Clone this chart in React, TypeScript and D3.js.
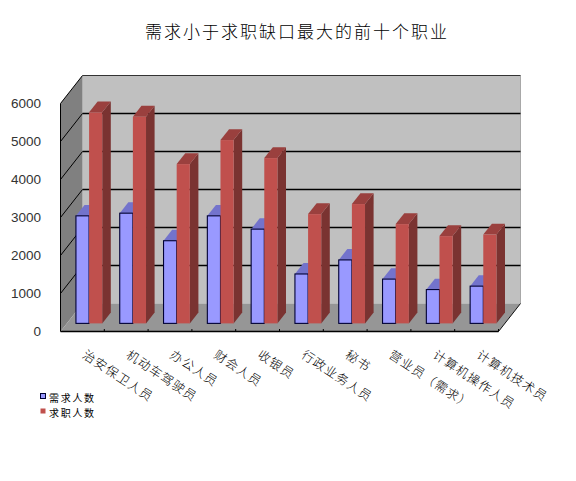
import React from "react";
import * as d3 from "d3";

const title = "需求小于求职缺口最大的前十个职业";
const categories = ["治安保卫人员", "机动车驾驶员", "办公人员", "财会人员", "收银员", "行政业务人员", "秘书", "营业员（需求）", "计算机操作人员", "计算机技术员"];
const demand = [2830, 2900, 2175, 2830, 2480, 1300, 1670, 1165, 890, 980];
const seekers = [5553, 5437, 4192, 4824, 4350, 2876, 3140, 2613, 2297, 2337];
const seriesNames = ["需求人数", "求职人数"];
const ticks = [0, 1000, 2000, 3000, 4000, 5000, 6000];

const CJK = "'Noto Sans CJK SC', sans-serif";
const x = d3.scaleBand<number>().domain(d3.range(categories.length)).range([60.5, 498.5]);
const y = d3.scaleLinear().domain([0, 6000]).range([331.5, 103.5]);
const DX = 22, DY = -28;
const off = (t: number) => [DX * t, DY * t];
const T0 = 0.29, T1 = 0.68;
const pts = (a: number[][]) => a.map((p) => p.join(",")).join(" ");

function Bar({ i, s, v }: { i: number; s: number; v: number }) {
  const bw = x.bandwidth();
  const gap = 0.2 * bw;
  const w = (bw - 2 * gap) / 2;
  const xa = x(i)! + gap + 0.3 + s * w + off(T0)[0];
  const xb = xa + w;
  const yb = y(0) + off(T0)[1], yt = y(v) + off(T0)[1];
  const [ddx, ddy] = [off(T1)[0] - off(T0)[0], off(T1)[1] - off(T0)[1]];
  const c = s === 0
    ? { f: "#9999ff", t: "#7373cc", d: "#6b6bb3", st: "#000033", sw: 1.1 }
    : { f: "#c0504d", t: "#9a403e", d: "#7a3331", st: "none", sw: 0 };
  return (
    <g>
      <polygon points={pts([[xb, yb], [xb + ddx, yb + ddy], [xb + ddx, yt + ddy], [xb, yt]])} fill={c.d} />
      <polygon points={pts([[xa, yt], [xa + ddx, yt + ddy], [xb + ddx, yt + ddy], [xb, yt]])} fill={c.t} />
      <rect x={xa} y={yt} width={xb - xa} height={yb - yt} fill={c.f} stroke={c.st} strokeWidth={c.sw} />
    </g>
  );
}

export default function App() {
  const [l, r] = x.range();
  const y0 = y(0), yTop = y(6000);
  return (
    <svg width={576} height={481} style={{ position: "absolute", left: 0, top: 0, background: "#fff" }}>
      <text x={297} y={38} textAnchor="middle" fontFamily={CJK} fontSize={17} letterSpacing={2} fontWeight={300} fill="#000">{title}</text>

      <polygon points={pts([[l + DX, yTop + DY], [r + DX, yTop + DY], [r + DX, y0 + DY], [l + DX, y0 + DY]])} fill="#c0c0c0" />
      <polygon points={pts([[l, yTop], [l + DX, yTop + DY], [l + DX, y0 + DY], [l, y0]])} fill="#808080" />
      <polygon points={pts([[l, y0], [l + DX, y0 + DY], [r + DX, y0 + DY], [r, y0]])} fill="#969696" />
      <line x1={r + DX} x2={r + DX} y1={yTop + DY} y2={y0 + DY} stroke="#a8a8a8" />
      <line x1={r + DX} x2={r} y1={y0 + DY} y2={y0} stroke="#111" />

      {ticks.slice(1).map((t) => (
        <g key={t} stroke="#000" fill="none">
          <line x1={l} y1={y(t)} x2={l + DX} y2={y(t) + DY} strokeWidth={1} />
          <line x1={l + DX} y1={y(t) + DY} x2={r + DX} y2={y(t) + DY} strokeWidth={t === 6000 ? 1 : 1.3} stroke={t === 6000 ? "#333" : "#000"} />
        </g>
      ))}
      <line x1={l} x2={l} y1={yTop} y2={y0} stroke="#000" />
      <line x1={l} x2={r} y1={y0} y2={y0} stroke="#000" strokeWidth={1.3} />
      {d3.range(1, categories.length + 1).map((i) => (
        <line key={i} x1={l + i * x.bandwidth()} x2={l + i * x.bandwidth()} y1={y0 - 2.5} y2={y0} stroke="#000" />
      ))}

      {categories.map((_, i) => (
        <g key={i}>
          <Bar i={i} s={0} v={demand[i]} />
          <Bar i={i} s={1} v={seekers[i]} />
        </g>
      ))}

      {ticks.map((t) => (
        <text key={t} x={41} y={y(t) + 4.8} textAnchor="end" fontFamily="'Liberation Sans', sans-serif" fontSize={13.5} fill="#333">{t}</text>
      ))}

      {categories.map((c, i) => (
        <text key={c} transform={`translate(${x(i)! + 21},${357}) rotate(33.5)`} fontFamily={CJK} fontSize={12.5} letterSpacing={1.1} fontWeight={300} fill="#000">{c}</text>
      ))}

      {seriesNames.map((n, k) => (
        <g key={n}>
          <rect x={40.5} y={393.5 + k * 15} width={5} height={5} fill={k === 0 ? "#9999ff" : "#c0504d"} stroke={k === 0 ? "#000033" : "none"} />
          <text x={49} y={402 + k * 14.5} fontFamily={CJK} fontSize={10} letterSpacing={1.7} fill="#000">{n}</text>
        </g>
      ))}
    </svg>
  );
}
